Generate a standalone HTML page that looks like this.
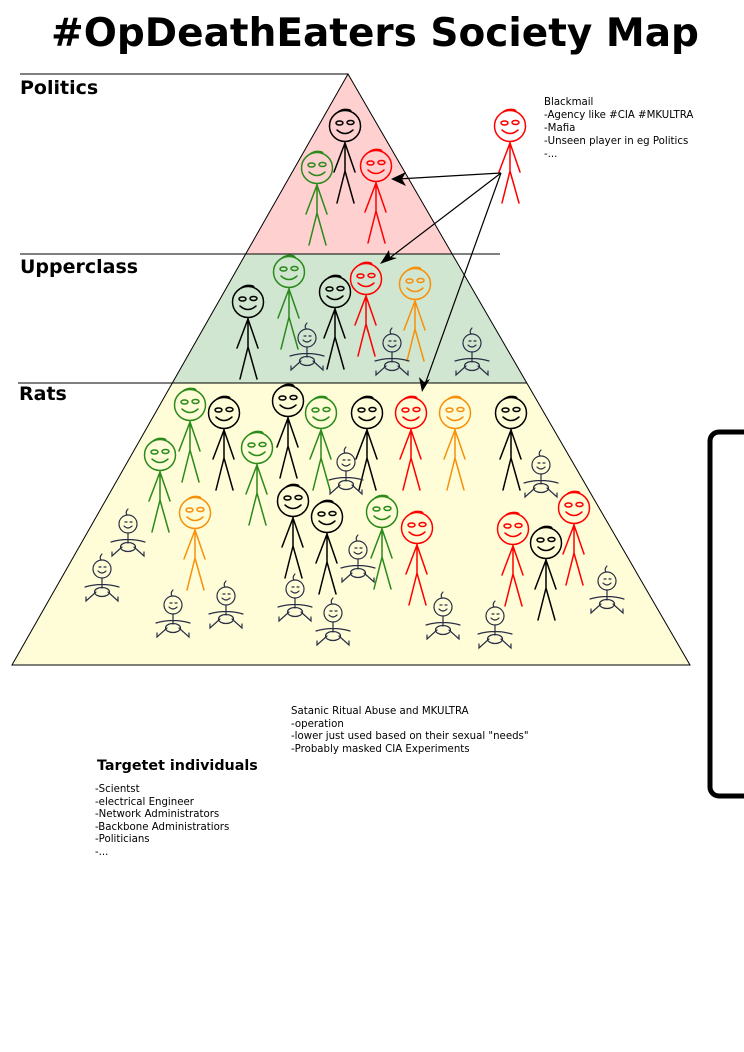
<!DOCTYPE html>
<html><head><meta charset="utf-8"><style>
html,body{margin:0;padding:0;background:#fff;}
svg{display:block;}
text{font-family:"DejaVu Sans","Liberation Sans",sans-serif;}
</style></head><body>
<svg width="744" height="1052" viewBox="0 0 744 1052" xmlns="http://www.w3.org/2000/svg">
<defs>
<g id="fig" fill="none" stroke-width="1.5" stroke-linecap="round">
  <circle cx="0" cy="0" r="15.5"/>
  <path d="M-7,-14 q5,-4 12,-2 M-5,-15 q6,-3 11,0"/>
  <ellipse cx="-5.5" cy="-3" rx="3.5" ry="2"/>
  <ellipse cx="5.5" cy="-3.5" rx="3.5" ry="2"/>
  <path d="M-8,4 q8,7 16,0"/>
  <path d="M0,15.5 L0,45 M0,17 L-11,46 M0,17 L10,46 M0,45 L-8,77 M0,45 L9,77"/>
</g>
<g id="baby" fill="none" stroke="#2a2f45" stroke-width="1.2" stroke-linecap="round">
  <circle cx="0" cy="0" r="9"/>
  <path d="M-1,-9 q-2,-3 1,-6"/>
  <path d="M-3,-2 l2,0 M2,-2 l2,0 M-4,2 q4,4 8,0"/>
  <path d="M0,9 L0,19 M-17,18 q17,-5 34,0"/>
  <ellipse cx="0" cy="23" rx="7.5" ry="4.5"/>
  <path d="M-6,23 L-16,32 L-16,28 M6,23 L16,32 L16,28"/>
</g>
</defs>

<text x="375" y="46" text-anchor="middle" font-size="39" font-weight="bold">#OpDeathEaters Society Map</text>

<polygon points="348,74 452,254 246,254" fill="#ffd0d0"/>
<polygon points="246,254 452,254 527,383 172,383" fill="#d0e6d0"/>
<polygon points="172,383 527,383 690,665 12,665" fill="#fffdd8"/>
<polygon points="348,74 690,665 12,665" fill="none" stroke="#000" stroke-width="1"/>
<line x1="20" y1="74" x2="348" y2="74" stroke="#000" stroke-width="1"/>
<line x1="20" y1="254" x2="500" y2="254" stroke="#000" stroke-width="1"/>
<line x1="18" y1="383" x2="527" y2="383" stroke="#000" stroke-width="1"/>

<text x="20" y="94" font-size="19" font-weight="bold">Politics</text>
<text x="20" y="273" font-size="19" font-weight="bold">Upperclass</text>
<text x="19" y="400" font-size="19" font-weight="bold">Rats</text>

<use href="#fig" x="345" y="126" stroke="#000"/>
<use href="#fig" x="317" y="168" stroke="#2a8a1a"/>
<use href="#fig" x="376" y="166" stroke="#f00"/>
<use href="#fig" x="510" y="126" stroke="#f00"/>

<use href="#fig" x="289" y="272" stroke="#2a8a1a"/>
<use href="#fig" x="366" y="279" stroke="#f00"/>
<use href="#fig" x="415" y="284" stroke="#f7900a"/>
<use href="#fig" x="248" y="302" stroke="#000"/>
<use href="#fig" x="335" y="292" stroke="#000"/>
<use href="#baby" x="307" y="338"/>
<use href="#baby" x="392" y="343"/>
<use href="#baby" x="472" y="343"/>

<use href="#fig" x="190" y="405" stroke="#2a8a1a"/>
<use href="#fig" x="224" y="413" stroke="#000"/>
<use href="#fig" x="288" y="401" stroke="#000"/>
<use href="#fig" x="321" y="413" stroke="#2a8a1a"/>
<use href="#fig" x="367" y="413" stroke="#000"/>
<use href="#fig" x="411" y="413" stroke="#f00"/>
<use href="#fig" x="455" y="413" stroke="#f7900a"/>
<use href="#fig" x="511" y="413" stroke="#000"/>
<use href="#fig" x="160" y="455" stroke="#2a8a1a"/>
<use href="#fig" x="257" y="448" stroke="#2a8a1a"/>
<use href="#fig" x="293" y="501" stroke="#000"/>
<use href="#fig" x="327" y="517" stroke="#000"/>
<use href="#fig" x="382" y="512" stroke="#2a8a1a"/>
<use href="#fig" x="417" y="528" stroke="#f00"/>
<use href="#fig" x="195" y="513" stroke="#f7900a"/>
<use href="#fig" x="513" y="529" stroke="#f00"/>
<use href="#fig" x="546" y="543" stroke="#000"/>
<use href="#fig" x="574" y="508" stroke="#f00"/>
<use href="#baby" x="346" y="462"/>
<use href="#baby" x="541" y="465"/>
<use href="#baby" x="128" y="524"/>
<use href="#baby" x="102" y="569"/>
<use href="#baby" x="173" y="605"/>
<use href="#baby" x="226" y="596"/>
<use href="#baby" x="295" y="589"/>
<use href="#baby" x="333" y="613"/>
<use href="#baby" x="358" y="550"/>
<use href="#baby" x="443" y="607"/>
<use href="#baby" x="495" y="616"/>
<use href="#baby" x="607" y="581"/>

<g stroke="#000" stroke-width="1.2" fill="none">
<line x1="501" y1="173" x2="398" y2="179"/>
<line x1="501" y1="173" x2="387" y2="260"/>
<line x1="501" y1="173" x2="424" y2="387"/>
</g>
<polygon points="391,179 406,172 402,179 406,186" fill="#000"/>
<polygon points="380,264 389,250 390,257 397,258" fill="#000"/>
<polygon points="422,392 419,377 424,382 430,379" fill="#000"/>

<rect x="710" y="432" width="60" height="364" rx="9" fill="none" stroke="#000" stroke-width="5"/>

<g font-size="10.2">
<text x="544" y="105">Blackmail</text>
<text x="544" y="118">-Agency like #CIA #MKULTRA</text>
<text x="544" y="131">-Mafia</text>
<text x="544" y="144">-Unseen player in eg Politics</text>
<text x="544" y="157">-...</text>
<text x="291" y="714">Satanic Ritual Abuse and MKULTRA</text>
<text x="291" y="727">-operation</text>
<text x="291" y="739">-lower just used based on their sexual "needs"</text>
<text x="291" y="752">-Probably masked CIA Experiments</text>
<text x="95" y="792">-Scientst</text>
<text x="95" y="805">-electrical Engineer</text>
<text x="95" y="817">-Network Administrators</text>
<text x="95" y="830">-Backbone Administratiors</text>
<text x="95" y="842">-Politicians</text>
<text x="95" y="855">-...</text>
</g>
<text x="97" y="770" font-size="14.3" font-weight="bold">Targetet individuals</text>
</svg>
</body></html>
